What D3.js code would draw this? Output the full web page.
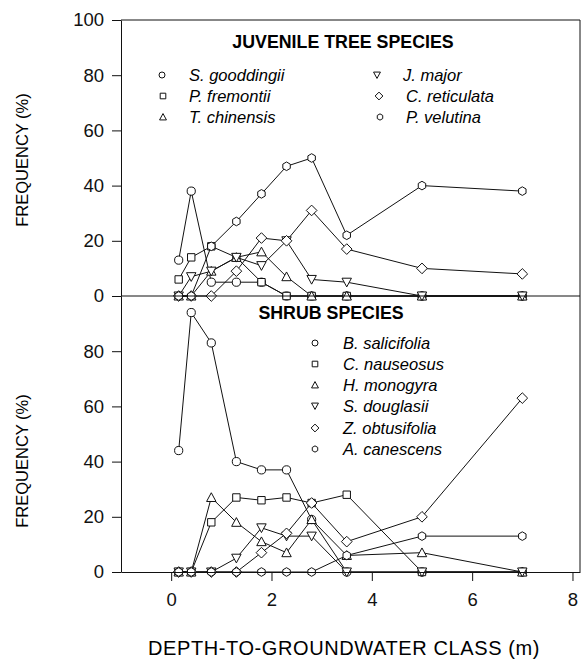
<!DOCTYPE html>
<html>
<head>
<meta charset="utf-8">
<script src="https://cdnjs.cloudflare.com/ajax/libs/d3/7.8.5/d3.min.js"></script>
<style>
  body { margin: 0; background: #fff; }
  svg { display: block; font-family: "Liberation Sans", Arial, Helvetica, sans-serif; }
  .tick text { font-size: 18.5px; fill: #111; }
  .title { font-size: 17.8px; font-weight: bold; }
  .legend text { font-size: 16.5px; font-style: italic; }
</style>
</head>
<body>
<svg id="chart"></svg>
<script>
// depth-to-groundwater classes (m)
var depths = [0.15, 0.4, 0.8, 1.3, 1.8, 2.3, 2.8, 3.5, 5, 7];

// juvenile tree species, frequency (%)
var treeNames = ["S. gooddingii", "P. fremontii", "T. chinensis", "J. major", "C. reticulata", "P. velutina"];
var treeShapes = ["circle", "square", "triangle", "invtriangle", "diamond", "hexagon"];
var sGooddingii = [13, 38, 5, 5, 5, 0, 0, 0, 0, 0];
var pFremontii = [6, 14, 18, 14, 5, 0, 0, 0, 0, 0];
var tChinensis = [0, 0, 9, 14, 16, 7, 0, 0, 0, 0];
var jMajor = [0, 7, 9, 14, 11, 20, 6, 5, 0, 0];
var cReticulata = [0, 0, 0, 9, 21, 20, 31, 17, 10, 8];
var pVelutina = [0, 0, 18, 27, 37, 47, 50, 22, 40, 38];

// shrub species, frequency (%)
var shrubNames = ["B. salicifolia", "C. nauseosus", "H. monogyra", "S. douglasii", "Z. obtusifolia", "A. canescens"];
var shrubShapes = ["circle", "square", "triangle", "invtriangle", "diamond", "hexagon"];
var bSalicifolia = [44, 94, 83, 40, 37, 37, 19, 0, 0, 0];
var cNauseosus = [0, 0, 18, 27, 26, 27, 25, 28, 0, 0];
var hMonogyra = [0, 0, 27, 18, 11, 7, 19, 6, 7, 0];
var sDouglasii = [0, 0, 0, 5, 16, 13, 13, 0, 0, 0];
var zObtusifolia = [0, 0, 0, 0, 7, 14, 25, 11, 20, 63];
var aCanescens = [0, 0, 0, 0, 0, 0, 0, 6, 13, 13];

var xTicks = [0, 2, 4, 6, 8];
var yTicksTop = [0, 20, 40, 60, 80, 100];
var yTicksBottom = [0, 20, 40, 60, 80];

var width = 583, height = 660;
var mLeft = 121, mRight = 580, mTop = 20, mMid = 296, mBottom = 572;

var svg = d3.select("#chart").attr("width", width).attr("height", height);

var x = d3.scaleLinear().domain([-1, 8.15]).range([mLeft, mRight]);
var yTop = d3.scaleLinear().domain([0, 100]).range([mMid, mTop]);
var yBot = d3.scaleLinear().domain([0, 100]).range([mBottom, mMid]);

function shapePath(type, r) {
    var p = d3.path();
    if (type === "circle") {
        p.moveTo(r, 0);
        p.arc(0, 0, r, 0, 2 * Math.PI);
    } else if (type === "square") {
        p.rect(-r, -r, 2 * r, 2 * r);
    } else if (type === "triangle" || type === "invtriangle") {
        var s = type === "triangle" ? 1 : -1;
        var h = r * 1.15;
        p.moveTo(0, -s * h);
        p.lineTo(h, s * h * 0.85);
        p.lineTo(-h, s * h * 0.85);
        p.closePath();
    } else if (type === "diamond") {
        var d = r * 1.3;
        p.moveTo(0, -d); p.lineTo(d, 0); p.lineTo(0, d); p.lineTo(-d, 0);
        p.closePath();
    } else if (type === "hexagon") {
        for (var i = 0; i < 6; i++) {
            var a = Math.PI / 6 + i * Math.PI / 3;
            if (i === 0) p.moveTo(r * 1.05 * Math.cos(a), r * 1.05 * Math.sin(a));
            else p.lineTo(r * 1.05 * Math.cos(a), r * 1.05 * Math.sin(a));
        }
        p.closePath();
    }
    return p.toString();
}

function drawPanel(series, shapes, y) {
    var line = d3.line().x((d, i) => x(depths[i])).y(d => y(d));
    var g = svg.append("g");
    series.forEach(vals => {
        g.append("path")
            .attr("d", line(vals))
            .attr("fill", "none")
            .attr("stroke", "#111")
            .attr("stroke-width", 1);
    });
    series.forEach((vals, k) => {
        g.selectAll(null)
            .data(vals)
            .enter()
            .append("path")
            .attr("transform", (d, i) => "translate(" + x(depths[i]) + "," + y(d) + ")")
            .attr("d", shapePath(shapes[k], shapes[k] === "square" ? 3.7 : 4.1))
            .attr("fill", "#fff")
            .attr("stroke", "#111")
            .attr("stroke-width", 1);
    });
}

drawPanel([sGooddingii, pFremontii, tChinensis, jMajor, cReticulata, pVelutina], treeShapes, yTop);
drawPanel([bSalicifolia, cNauseosus, hMonogyra, sDouglasii, zObtusifolia, aCanescens], shrubShapes, yBot);

// frame
svg.append("path")
    .attr("d", "M" + mLeft + "," + mTop + "H" + mRight + "V" + mBottom + "M" + mLeft + "," + mMid + "H" + mRight)
    .attr("fill", "none").attr("stroke", "#111").attr("stroke-width", 1);

// axes
svg.append("g")
    .attr("transform", "translate(" + mLeft + ",0)")
    .call(d3.axisLeft(yTop).tickValues(yTicksTop).tickSize(9).tickPadding(8).tickSizeOuter(0));
svg.append("g")
    .attr("transform", "translate(" + mLeft + ",0)")
    .call(d3.axisLeft(yBot).tickValues(yTicksBottom).tickSize(9).tickPadding(8).tickSizeOuter(0));
svg.append("g")
    .attr("transform", "translate(0," + mBottom + ")")
    .call(d3.axisBottom(x).tickValues(xTicks).tickSize(9).tickPadding(12).tickSizeOuter(0));
svg.selectAll(".domain").attr("stroke", "#111");
svg.selectAll(".tick line").attr("stroke", "#111");

// axis titles
svg.append("text")
    .attr("x", 344).attr("y", 655)
    .attr("text-anchor", "middle")
    .style("font-size", "20px")
    .style("letter-spacing", "0.6px")
    .text("DEPTH-TO-GROUNDWATER CLASS (m)");
[[160, "FREQUENCY (%)"], [461, "FREQUENCY (%)"]].forEach(t => {
    svg.append("text")
        .attr("transform", "translate(28," + t[0] + ") rotate(-90)")
        .attr("text-anchor", "middle")
        .style("font-size", "16.5px")
        .text(t[1]);
});

// panel titles
svg.append("text").attr("class", "title")
    .attr("x", 343).attr("y", 48).attr("text-anchor", "middle")
    .text("JUVENILE TREE SPECIES");
svg.append("text").attr("class", "title")
    .attr("x", 331).attr("y", 319).attr("text-anchor", "middle")
    .text("SHRUB SPECIES");

// legends
function legend(names, shapes, cols) {
    var g = svg.append("g").attr("class", "legend");
    names.forEach((name, i) => {
        var c = cols[i];
        var row = g.append("g").attr("transform", "translate(" + c[0] + "," + c[1] + ")");
        row.append("path")
            .attr("d", shapePath(shapes[i], shapes[i] === "square" ? 2.8 : 3))
            .attr("fill", "#fff").attr("stroke", "#111").attr("stroke-width", 1);
        row.append("text")
            .attr("x", c[2]).attr("y", 6)
            .text(name);
    });
}
legend(treeNames, treeShapes, [
    [162, 75, 27], [163, 96, 26], [163, 117, 26],
    [377, 75, 26], [379, 96, 27], [380, 117, 26]
]);
legend(shrubNames, shrubShapes, [
    [315, 343, 28], [315, 364, 28], [315, 385, 28],
    [315, 406, 28], [315, 428, 28], [315, 449, 28]
]);
</script>
</body>
</html>
